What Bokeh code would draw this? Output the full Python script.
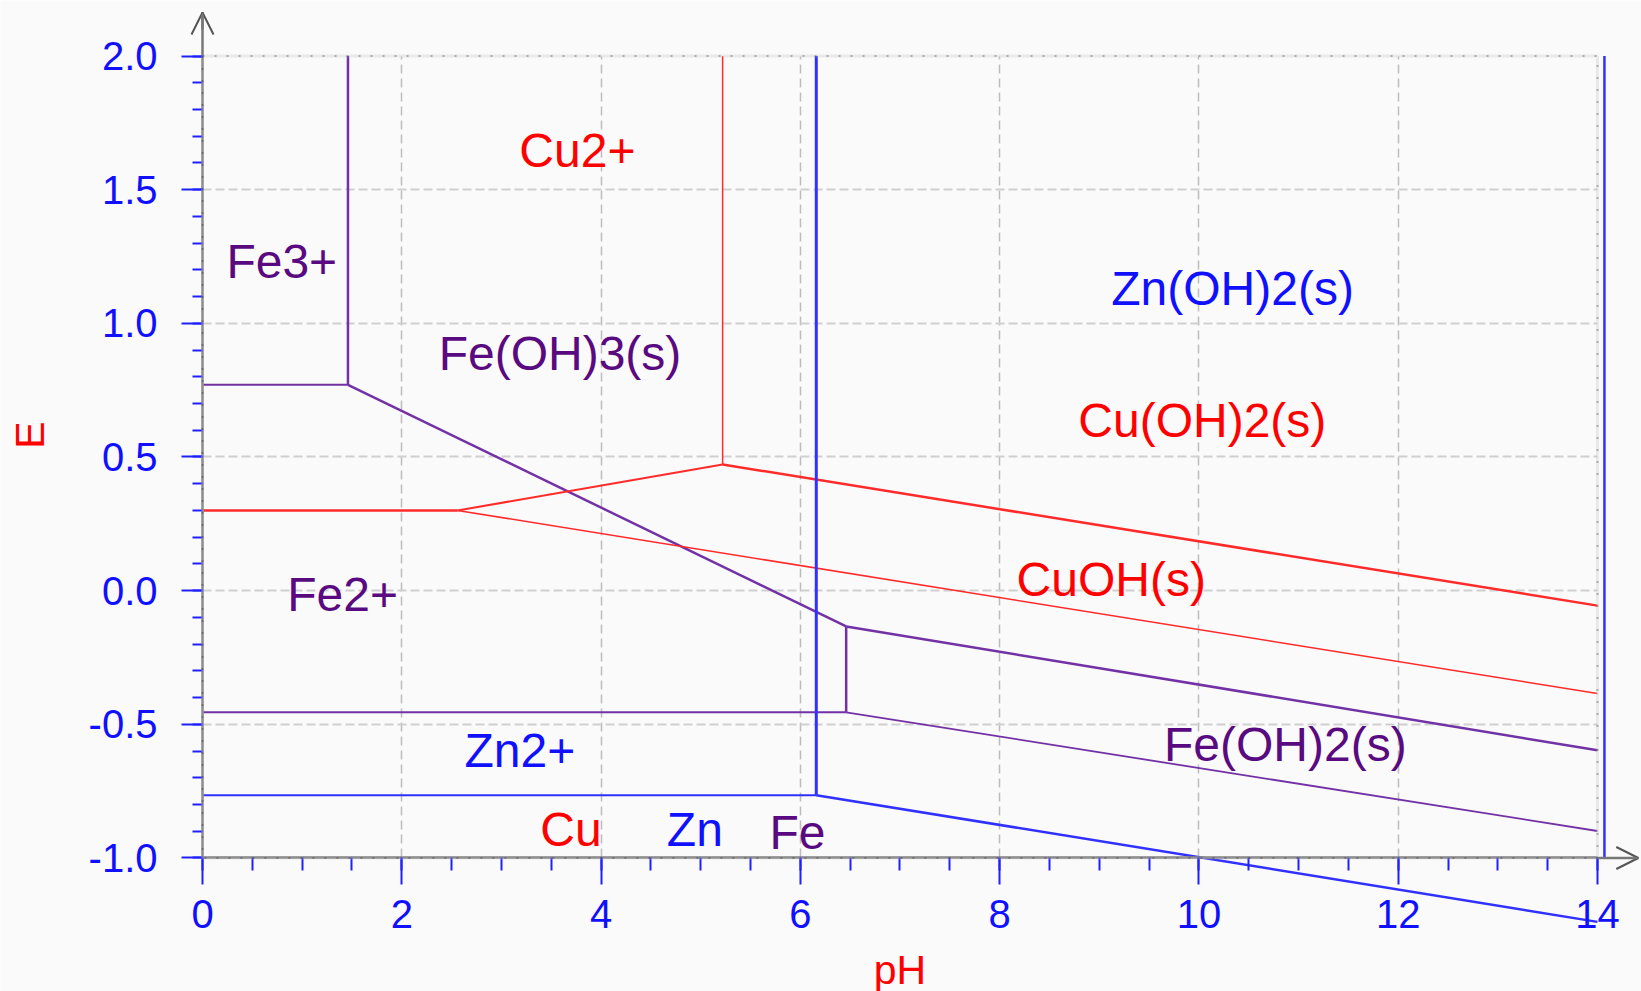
from bokeh.plotting import figure
from bokeh.models import (Range1d, FixedTicker, ColumnDataSource, BoxAnnotation,
                          Arrow, OpenHead, Grid)
from bokeh.core.properties import value
from bokeh.embed import file_html
from bokeh.resources import INLINE

# ---------------- data ----------------
x_ticks = [0, 2, 4, 6, 8, 10, 12, 14]
x_minor_ticks = [0, 0.5, 1, 1.5, 2, 2.5, 3, 3.5, 4, 4.5, 5, 5.5, 6, 6.5, 7, 7.5,
                 8, 8.5, 9, 9.5, 10, 10.5, 11, 11.5, 12, 12.5, 13, 13.5, 14]
y_ticks = [-1.0, -0.5, 0.0, 0.5, 1.0, 1.5, 2.0]
y_tick_labels = ["-1.0", "-0.5", "0.0", "0.5", "1.0", "1.5", "2.0"]
y_minor_ticks = [-1.0, -0.9, -0.8, -0.7, -0.6, -0.5, -0.4, -0.3, -0.2, -0.1, 0.0,
                 0.1, 0.2, 0.3, 0.4, 0.5, 0.6, 0.7, 0.8, 0.9, 1.0, 1.1, 1.2, 1.3,
                 1.4, 1.5, 1.6, 1.7, 1.8, 1.9, 2.0]
x_grid_ticks = [2, 4, 6, 8, 10, 12]
y_grid_ticks = [-0.5, 0.0, 0.5, 1.0, 1.5]

# Fe boundaries (pH, E)
fe_ph = [[1.46, 1.46], [0.0, 1.46], [1.46, 6.46], [6.46, 6.46], [0.0, 6.46],
         [6.46, 14.0], [6.46, 14.0]]
fe_e = [[2.0, 0.77], [0.77, 0.77], [0.77, -0.134], [-0.134, -0.455],
        [-0.455, -0.455], [-0.134, -0.597], [-0.455, -0.899]]

# Cu boundaries
cu_ph = [[5.22, 5.22], [0.0, 2.56], [2.56, 5.22], [5.22, 14.0], [2.56, 14.0]]
cu_e = [[2.0, 0.472], [0.30, 0.30], [0.30, 0.472], [0.472, -0.056],
        [0.30, -0.385]]

# Zn boundaries
zn_ph = [[6.16, 6.16], [0.0, 6.16], [6.16, 14.0], [14.07, 14.07]]
zn_e = [[2.0, -0.765], [-0.765, -0.765], [-0.765, -1.239], [2.0, -1.0]]

# region labels
fe_labels = ["Fe3+", "Fe(OH)3(s)", "Fe2+", "Fe(OH)2(s)", "Fe"]
fe_label_ph = [0.24, 2.37, 0.85, 9.65, 5.69]
fe_label_e = [1.232, 0.888, -0.013, -0.577, -0.906]
cu_labels = ["Cu2+", "Cu(OH)2(s)", "CuOH(s)", "Cu"]
cu_label_ph = [3.18, 8.79, 8.17, 3.39]
cu_label_e = [1.648, 0.637, 0.042, -0.894]
zn_labels = ["Zn(OH)2(s)", "Zn2+", "Zn"]
zn_label_ph = [9.12, 2.63, 4.66]
zn_label_e = [1.131, -0.597, -0.894]

# ---------------- styles ----------------
FE_LINE, FE_TEXT = "#7232a6", "#5a0a80"
CU_LINE, CU_TEXT = "#ff2a2a", "#ff0000"
ZN_LINE, ZN_TEXT = "#3030ff", "#1010ff"
BG = "#fafafa"
FONT = "Liberation Sans"

fe_w = [2.5, 2, 2.5, 2.5, 2, 2.5, 1.8]
cu_w = [1.5, 2.5, 2, 2.5, 1.5]
zn_w = [3, 2, 2.5, 2.5]

W, H = 1641, 991
PX_PER_PH = 99.64
PX_PER_V = 267.33
LEFT_PX, TOP_PX = 202.0, 55.5
x_start = -LEFT_PX / PX_PER_PH
x_end = (W - LEFT_PX) / PX_PER_PH
y_end = 2.0 + TOP_PX / PX_PER_V
y_start = y_end - H / PX_PER_V

p = figure(width=W, height=H,
           x_range=Range1d(x_start, x_end), y_range=Range1d(y_start, y_end),
           min_border_left=0, min_border_right=0, min_border_top=0,
           min_border_bottom=0, toolbar_location=None, output_backend="svg")
p.background_fill_color = BG
p.border_fill_color = BG
p.outline_line_color = None

# grid
p.xgrid.ticker = FixedTicker(ticks=x_grid_ticks)
p.ygrid.ticker = FixedTicker(ticks=y_grid_ticks)
if "cross_bounds" in Grid.properties():
    p.xgrid.cross_bounds = (-1.0, 2.0)
    p.ygrid.cross_bounds = (0.0, 14.0)
    p.xgrid.grid_line_color = "#bdbdbd"
    p.xgrid.grid_line_width = 1.5
    p.xgrid.grid_line_dash = "9 5"
    p.ygrid.grid_line_color = "#cfcfcf"
    p.ygrid.grid_line_width = 2
    p.ygrid.grid_line_dash = "9 4"
else:
    p.xgrid.visible = False
    p.ygrid.visible = False
    p.segment(x0=x_grid_ticks, y0=[-1.0] * len(x_grid_ticks), x1=x_grid_ticks,
              y1=[2.0] * len(x_grid_ticks), line_color="#bdbdbd", line_width=1.5,
              line_dash="9 5", level="underlay")
    p.segment(x0=[0.0] * len(y_grid_ticks), y0=y_grid_ticks,
              x1=[14.0] * len(y_grid_ticks), y1=y_grid_ticks,
              line_color="#cfcfcf", line_width=2, line_dash="9 4", level="underlay")

# axes
xa = p.xaxis[0]
xa.fixed_location = -1.0
xa.bounds = (0, 14)
xa.ticker = FixedTicker(ticks=x_ticks, minor_ticks=x_minor_ticks)
ya = p.yaxis[0]
ya.fixed_location = 0.0
ya.bounds = (-1.0, 2.1627)
ya.ticker = FixedTicker(ticks=y_ticks, minor_ticks=y_minor_ticks)
ya.major_label_overrides = {t: s for t, s in zip(y_ticks, y_tick_labels)}

for ax in (xa, ya):
    ax.axis_line_color = "#777777"
    ax.axis_line_width = 2.5
    ax.major_tick_line_color = "#2020ff"
    ax.major_tick_line_width = 2
    ax.minor_tick_line_color = "#2020ff"
    ax.minor_tick_line_width = 2
    ax.major_tick_in = 0
    ax.minor_tick_in = 0
    ax.major_label_text_font = FONT
    ax.major_label_text_font_size = "40px"
    ax.major_label_text_color = "#1010ff"
    ax.axis_label_text_font = FONT
    ax.axis_label_text_font_size = "41px"
    ax.axis_label_text_font_style = "normal"
    ax.axis_label_text_color = "#ff0000"

xa.major_tick_out = 27
xa.minor_tick_out = 13
xa.major_label_standoff = 15
xa.axis_label = "pH"
xa.axis_label_standoff = 16

ya.major_tick_out = 21
ya.minor_tick_out = 10
ya.major_label_standoff = 24
ya.axis_label = "E"
ya.axis_label_standoff = 33

# axis arrows
p.add_layout(Arrow(end=OpenHead(size=22, line_color="#555555", line_width=2),
                   x_start=0, y_start=2.10, x_end=0, y_end=2.1627,
                   line_color="#777777", line_width=2.5))
p.add_layout(Arrow(end=OpenHead(size=22, line_color="#555555", line_width=2),
                   x_start=14.0, y_start=-1.0, x_end=14.41, y_end=-1.0,
                   line_color="#777777", line_width=2.5))

# boundary lines
p.multi_line(xs="xs", ys="ys", line_width="w", line_color=FE_LINE,
             source=ColumnDataSource(dict(xs=fe_ph, ys=fe_e, w=fe_w)))
p.multi_line(xs="xs", ys="ys", line_width="w", line_color=CU_LINE,
             source=ColumnDataSource(dict(xs=cu_ph, ys=cu_e, w=cu_w)))
p.multi_line(xs="xs", ys="ys", line_width="w", line_color=ZN_LINE,
             source=ColumnDataSource(dict(xs=zn_ph, ys=zn_e, w=zn_w)))

# frame border (gray under black dots)
p.add_layout(BoxAnnotation(left=0, right=14, bottom=-1, top=2, fill_color=None,
                           fill_alpha=0, line_color="#c4c4c4", line_width=3))
p.add_layout(BoxAnnotation(left=0, right=14, bottom=-1, top=2, fill_color=None,
                           fill_alpha=0, line_color="#222222", line_width=2,
                           line_dash="2 10"))

# region labels
for labels, xs, ys, col in ((fe_labels, fe_label_ph, fe_label_e, FE_TEXT),
                            (cu_labels, cu_label_ph, cu_label_e, CU_TEXT),
                            (zn_labels, zn_label_ph, zn_label_e, ZN_TEXT)):
    p.text(x="x", y="y", text="t", source=ColumnDataSource(dict(x=xs, y=ys, t=labels)),
           text_color=col, text_font=value(FONT), text_font_size="48px",
           text_align="left", text_baseline="middle")

open("out.html", "w").write(file_html(p, INLINE))
